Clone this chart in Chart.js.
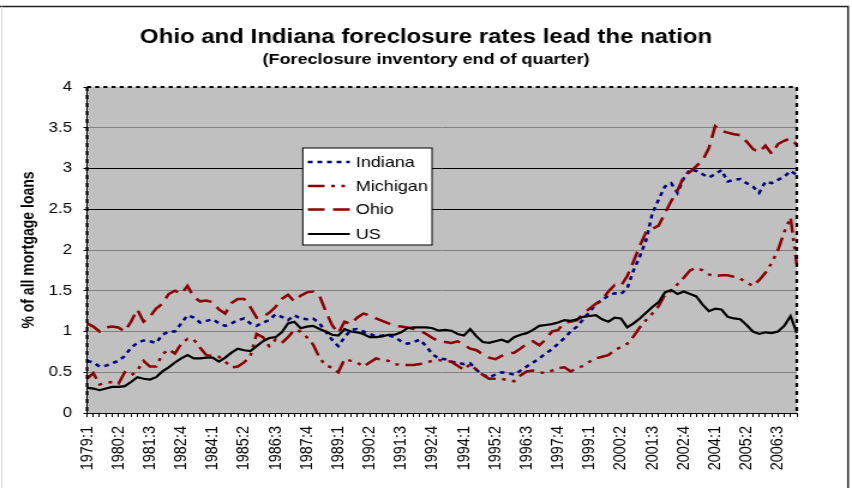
<!DOCTYPE html>
<html><head><meta charset="utf-8">
<script src="https://cdn.jsdelivr.net/npm/chart.js@4.4.0/dist/chart.umd.min.js"></script>
<style>
html,body{margin:0;padding:0;background:#fff;overflow:hidden;}
#wrap{position:absolute;left:0;top:0;width:710px;height:488px;transform:scaleX(1.2);transform-origin:0 0;}
</style></head><body>
<div id="wrap"><canvas id="c"></canvas></div>
<script>
const quarters = [
"1979:1","1979:2","1979:3","1979:4","1980:1","1980:2","1980:3","1980:4",
"1981:1","1981:2","1981:3","1981:4","1982:1","1982:2","1982:3","1982:4",
"1983:1","1983:2","1983:3","1983:4","1984:1","1984:2","1984:3","1984:4",
"1985:1","1985:2","1985:3","1985:4","1986:1","1986:2","1986:3","1986:4",
"1987:1","1987:2","1987:3","1987:4","1988:1","1988:2","1988:3","1988:4",
"1989:1","1989:2","1989:3","1989:4","1990:1","1990:2","1990:3","1990:4",
"1991:1","1991:2","1991:3","1991:4","1992:1","1992:2","1992:3","1992:4",
"1993:1","1993:2","1993:3","1993:4","1994:1","1994:2","1994:3","1994:4",
"1995:1","1995:2","1995:3","1995:4","1996:1","1996:2","1996:3","1996:4",
"1997:1","1997:2","1997:3","1997:4","1998:1","1998:2","1998:3","1998:4",
"1999:1","1999:2","1999:3","1999:4","2000:1","2000:2","2000:3","2000:4",
"2001:1","2001:2","2001:3","2001:4","2002:1","2002:2","2002:3","2002:4",
"2003:1","2003:2","2003:3","2003:4","2004:1","2004:2","2004:3","2004:4",
"2005:1","2005:2","2005:3","2005:4","2006:1","2006:2","2006:3","2006:4",
"2007:1","2007:2"];

const indiana = [
0.64,0.62,0.57,0.58,0.61,0.64,0.70,0.80,0.86,0.89,
0.88,0.86,0.96,1.00,1.00,1.10,1.20,1.17,1.11,1.13,
1.15,1.10,1.07,1.10,1.14,1.16,1.10,1.07,1.11,1.14,
1.21,1.18,1.14,1.20,1.16,1.15,1.16,1.10,1.00,0.90,
0.82,0.93,1.02,1.03,1.00,0.97,0.94,0.95,0.95,0.93,
0.88,0.85,0.87,0.90,0.82,0.72,0.67,0.66,0.63,0.62,
0.60,0.61,0.53,0.47,0.44,0.47,0.50,0.49,0.47,0.52,
0.57,0.62,0.67,0.73,0.78,0.85,0.92,1.00,1.06,1.15,
1.24,1.33,1.39,1.44,1.47,1.46,1.53,1.75,1.92,2.12,
2.45,2.62,2.78,2.82,2.70,2.88,2.99,2.97,2.93,2.89,
2.93,2.98,2.84,2.86,2.87,2.82,2.78,2.70,2.84,2.82,
2.86,2.90,2.97,2.92];

const michigan = [
0.42,0.49,0.35,0.37,0.38,0.36,0.50,0.46,0.52,0.64,
0.57,0.57,0.72,0.78,0.73,0.85,0.91,0.90,0.80,0.71,
0.70,0.69,0.63,0.56,0.57,0.62,0.70,0.97,0.93,0.82,
0.90,0.86,0.93,1.02,1.00,0.93,0.84,0.68,0.58,0.56,
0.50,0.66,0.64,0.62,0.57,0.62,0.67,0.65,0.64,0.60,
0.59,0.59,0.59,0.60,0.62,0.64,0.65,0.64,0.63,0.58,
0.53,0.60,0.53,0.47,0.42,0.42,0.42,0.40,0.39,0.46,
0.51,0.52,0.50,0.49,0.52,0.55,0.56,0.51,0.55,0.58,
0.63,0.67,0.69,0.71,0.77,0.81,0.85,0.94,1.05,1.14,
1.22,1.31,1.45,1.50,1.58,1.66,1.75,1.78,1.75,1.70,
1.68,1.69,1.69,1.67,1.65,1.60,1.56,1.63,1.72,1.84,
2.00,2.22,2.40,1.82];

const ohio = [
1.10,1.06,1.00,1.05,1.06,1.05,1.00,1.12,1.27,1.12,
1.18,1.28,1.34,1.46,1.50,1.46,1.56,1.42,1.37,1.38,
1.36,1.27,1.22,1.35,1.40,1.40,1.30,1.17,1.18,1.23,
1.30,1.40,1.45,1.37,1.44,1.48,1.49,1.44,1.25,1.08,
0.98,1.12,1.09,1.17,1.22,1.20,1.16,1.13,1.10,1.07,
1.06,1.05,1.03,1.01,0.97,0.92,0.88,0.87,0.86,0.88,
0.84,0.79,0.77,0.72,0.68,0.66,0.70,0.73,0.74,0.79,
0.85,0.88,0.83,0.90,1.00,1.02,1.11,1.12,1.14,1.22,
1.28,1.34,1.39,1.49,1.57,1.56,1.68,1.86,2.05,2.22,
2.26,2.30,2.45,2.60,2.73,2.90,2.96,3.03,3.10,3.25,
3.52,3.46,3.44,3.42,3.41,3.33,3.24,3.20,3.28,3.18,
3.30,3.34,3.37,3.29];

const us = [
0.31,0.30,0.28,0.30,0.32,0.32,0.33,0.38,0.44,0.42,
0.41,0.44,0.51,0.56,0.62,0.67,0.71,0.67,0.67,0.68,
0.68,0.63,0.68,0.74,0.79,0.77,0.76,0.82,0.88,0.92,
0.93,0.99,1.10,1.12,1.04,1.06,1.07,1.03,1.00,0.96,
0.95,1.03,1.00,0.99,0.97,0.93,0.93,0.94,0.96,0.96,
0.99,1.04,1.05,1.05,1.05,1.04,1.01,1.02,1.01,0.97,
0.95,1.03,0.94,0.87,0.86,0.88,0.90,0.87,0.93,0.96,
0.98,1.02,1.07,1.08,1.09,1.11,1.14,1.13,1.15,1.18,
1.19,1.20,1.15,1.12,1.17,1.16,1.05,1.10,1.16,1.23,
1.30,1.36,1.48,1.51,1.46,1.49,1.46,1.43,1.33,1.25,
1.28,1.27,1.18,1.16,1.15,1.08,1.00,0.97,0.99,0.98,
1.00,1.07,1.19,0.98];

const seriesNames = ["Indiana","Michigan","Ohio","US"];
const yTickLabels = ["0","0.5","1","1.5","2","2.5","3","3.5","4"];
const titleText = "Ohio and Indiana foreclosure rates lead the nation";
const subtitleText = "(Foreclosure inventory end of quarter)";
const yAxisTitle = "% of all mortgage loans";
const labelEvery = 5;

const FONT = "'Liberation Sans', Arial, Helvetica, sans-serif";
const RED = '#8b0000';

const framePlugin = {
  id: 'frame',
  beforeDraw(chart) {
    const {ctx, chartArea: a} = chart;
    ctx.save();
    ctx.fillStyle = '#ffffff';
    ctx.fillRect(0, 0, chart.width, chart.height);
    ctx.fillStyle = '#c0c0c0';
    ctx.fillRect(a.left, a.top, a.right - a.left, a.bottom - a.top);
    ctx.restore();
  },
  afterDatasetsDraw(chart) {
    const {ctx, chartArea: a} = chart;
    ctx.save();
    ctx.strokeStyle = '#000';
    ctx.lineWidth = 2;
    ctx.setLineDash([3.4, 3.4]);
    ctx.beginPath(); ctx.moveTo(a.left, a.top); ctx.lineTo(a.right, a.top); ctx.stroke();
    ctx.lineWidth = 2.2;
    ctx.setLineDash([4, 4]);
    ctx.beginPath(); ctx.moveTo(a.right, a.top); ctx.lineTo(a.right, a.bottom); ctx.stroke();
    ctx.beginPath(); ctx.moveTo(a.left, a.top); ctx.lineTo(a.left, a.bottom); ctx.stroke();
    ctx.restore();
  },
  afterDraw(chart) {
    const ctx = chart.ctx;
    ctx.save();
    // outer frame: dark top and right, faint left
    ctx.strokeStyle = '#222';
    ctx.lineWidth = 1.5;
    ctx.beginPath(); ctx.moveTo(0, 6.5); ctx.lineTo(706.7, 6.5); ctx.lineTo(706.7, 488); ctx.stroke();
    ctx.strokeStyle = '#d8d8d8';
    ctx.lineWidth = 1;
    ctx.beginPath(); ctx.moveTo(1.5, 6.5); ctx.lineTo(1.5, 488); ctx.stroke();
    // legend
    const lx = 252.3, ly = 148, lw = 107.7, lh = 97;
    ctx.fillStyle = '#fff';
    ctx.fillRect(lx, ly, lw, lh);
    ctx.strokeStyle = '#000';
    ctx.lineWidth = 1;
    ctx.strokeRect(lx, ly, lw, lh);
    const rows = [162, 186, 209.5, 234];
    chart.data.datasets.forEach((ds, i) => {
      const y = rows[i];
      ctx.strokeStyle = ds.borderColor;
      ctx.lineWidth = ds.borderWidth;
      ctx.setLineDash(ds.borderDash || []);
      ctx.beginPath(); ctx.moveTo(256.5, y); ctx.lineTo(291.5, y); ctx.stroke();
      ctx.setLineDash([]);
      ctx.fillStyle = '#000';
      ctx.font = '15px ' + FONT;
      ctx.textBaseline = 'middle';
      ctx.textAlign = 'left';
      ctx.fillText(ds.label, 296.5, y + 0.5);
    });
    ctx.restore();
  }
};

new Chart(document.getElementById('c'), {
  type: 'line',
  data: {
    labels: quarters,
    datasets: [
      {label: seriesNames[0], data: indiana, borderColor: '#000080', borderWidth: 2.5, borderDash: [4, 4], order: 3},
      {label: seriesNames[1], data: michigan, borderColor: RED, borderWidth: 2.5, borderDash: [14, 5.5, 3, 5.5, 3, 5.5], order: 2},
      {label: seriesNames[2], data: ohio, borderColor: RED, borderWidth: 2.5, borderDash: [14, 7], order: 1},
      {label: seriesNames[3], data: us, borderColor: '#000000', borderWidth: 2.2, order: 0}
    ]
  },
  options: {
    responsive: true,
    maintainAspectRatio: false,
    animation: false,
    devicePixelRatio: 1,
    layout: {padding: {left: 0, right: 0, top: 0, bottom: 0}},
    elements: {point: {radius: 0, hoverRadius: 0}, line: {tension: 0, fill: false, borderCapStyle: 'butt'}},
    plugins: {
      legend: {display: false},
      tooltip: {enabled: false},
      title: {display: true, text: titleText, color: '#000', font: {family: FONT, size: 20, weight: 'bold'}, padding: {top: 25, bottom: 0}},
      subtitle: {display: true, text: subtitleText, color: '#000', font: {family: FONT, size: 15, weight: 'bold'}, padding: {top: 2, bottom: 18}}
    },
    scales: {
      x: {
        type: 'category',
        offset: false,
        grid: {drawOnChartArea: false, drawTicks: true, tickLength: 4, color: '#000'},
        border: {display: true, color: '#000', width: 1},
        ticks: {
          autoSkip: false, maxRotation: 90, minRotation: 90, padding: 9, color: '#000',
          font: {family: FONT, size: 14.5},
          callback: (v, i) => (i % labelEvery === 0 ? quarters[i] : '')
        },
        afterFit: (s) => { s.height = 75; }
      },
      y: {
        min: 0, max: 4,
        ticks: {
          stepSize: 0.5, padding: 9.5, color: '#000', font: {family: FONT, size: 14},
          callback: (v, i) => yTickLabels[i]
        },
        grid: {
          color: (c) => {
            const v = c.tick ? c.tick.value : null;
            if (v === 0 || v === 4) return 'rgba(0,0,0,0)';
            if (v === 3 || v === 2.5) return '#000000';
            return '#808080';
          },
          tickColor: '#000', tickLength: 3, lineWidth: 1
        },
        border: {display: true, color: '#000', width: 1},
        title: {display: true, text: yAxisTitle, color: '#000', font: {family: FONT, size: 14, weight: 'bold'}, padding: {top: 16, bottom: 0}},
        afterFit: (s) => { s.width = 72.5; }
      },
      yr: {
        position: 'right', display: true,
        grid: {display: false}, border: {display: false}, ticks: {display: false},
        afterFit: (s) => { s.width = 46; }
      }
    }
  },
  plugins: [framePlugin]
});
</script>
</body></html>
